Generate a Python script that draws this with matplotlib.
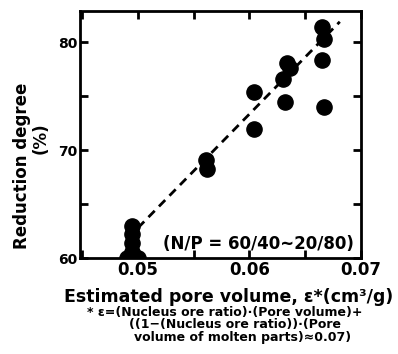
import numpy as np
import matplotlib.pyplot as plt
from matplotlib.ticker import MultipleLocator

# Estimated pore volume (cm3/g) and reduction degree (%)
pore_volume = [0.0495, 0.0495, 0.0495, 0.0495, 0.0490, 0.0500,
               0.0561, 0.0562,
               0.0604, 0.0604,
               0.0630, 0.0634, 0.0636, 0.0632,
               0.0665, 0.0667, 0.0665, 0.0667]
reduction_degree = [63.0, 62.2, 61.4, 60.6, 60.0, 60.0,
                    69.1, 68.3,
                    75.4, 72.0,
                    76.6, 78.1, 77.6, 74.5,
                    81.4, 80.3, 78.4, 74.0]

# dashed trend line end points
line_x = [0.0500, 0.0681]
line_y = [62.8, 81.9]

x_ticks = [0.05, 0.06, 0.07]
x_tick_labels = ["0.05", "0.06", "0.07"]
y_ticks = [60, 70, 80]

fig = plt.figure(figsize=(3.98, 3.54), dpi=100)
ax = fig.add_axes([0.201, 0.271, 0.706, 0.698])

ax.plot(line_x, line_y, color="black", linestyle=(0, (3.2, 2.2)), linewidth=2.0, zorder=2)
ax.scatter(pore_volume, reduction_degree, s=120, color="black", zorder=3, clip_on=True)

ax.set_xlim(0.0448, 0.0700)
ax.set_ylim(60, 82.9)
ax.set_xticks(x_ticks)
ax.set_xticklabels(x_tick_labels, fontsize=12, fontweight="bold")
ax.xaxis.set_minor_locator(MultipleLocator(0.005))
ax.set_yticks(y_ticks)
ax.set_yticklabels([str(v) for v in y_ticks], fontsize=10, fontweight="bold")
ax.yaxis.set_minor_locator(MultipleLocator(5))
ax.tick_params(which="both", direction="in", top=True, right=True, width=2, pad=2)
ax.tick_params(which="major", length=6)
ax.tick_params(which="minor", length=6)
for s in ax.spines.values():
    s.set_linewidth(2)

ax.text(0.0522, 61.3, "(N/P = 60/40~20/80)", fontsize=12, fontweight="bold", va="center")

fig.text(0.575, 0.162, "Estimated pore volume, ε*(cm³/g)", fontsize=12.5,
         fontweight="bold", ha="center", va="center")
fig.text(0.565, 0.118, "* ε=(Nucleus ore ratio)·(Pore volume)+", fontsize=9,
         fontweight="bold", ha="center", va="center")
fig.text(0.59, 0.083, "((1−(Nucleus ore ratio))·(Pore", fontsize=9,
         fontweight="bold", ha="center", va="center")
fig.text(0.61, 0.047, "volume of molten parts)≈0.07)", fontsize=9,
         fontweight="bold", ha="center", va="center")

fig.text(0.055, 0.531, "Reduction degree", fontsize=12, fontweight="bold",
         rotation=90, ha="center", va="center")
fig.text(0.102, 0.61, "(%)", fontsize=12, fontweight="bold",
         rotation=90, ha="center", va="center")

fig.savefig("out.png", dpi=100)
